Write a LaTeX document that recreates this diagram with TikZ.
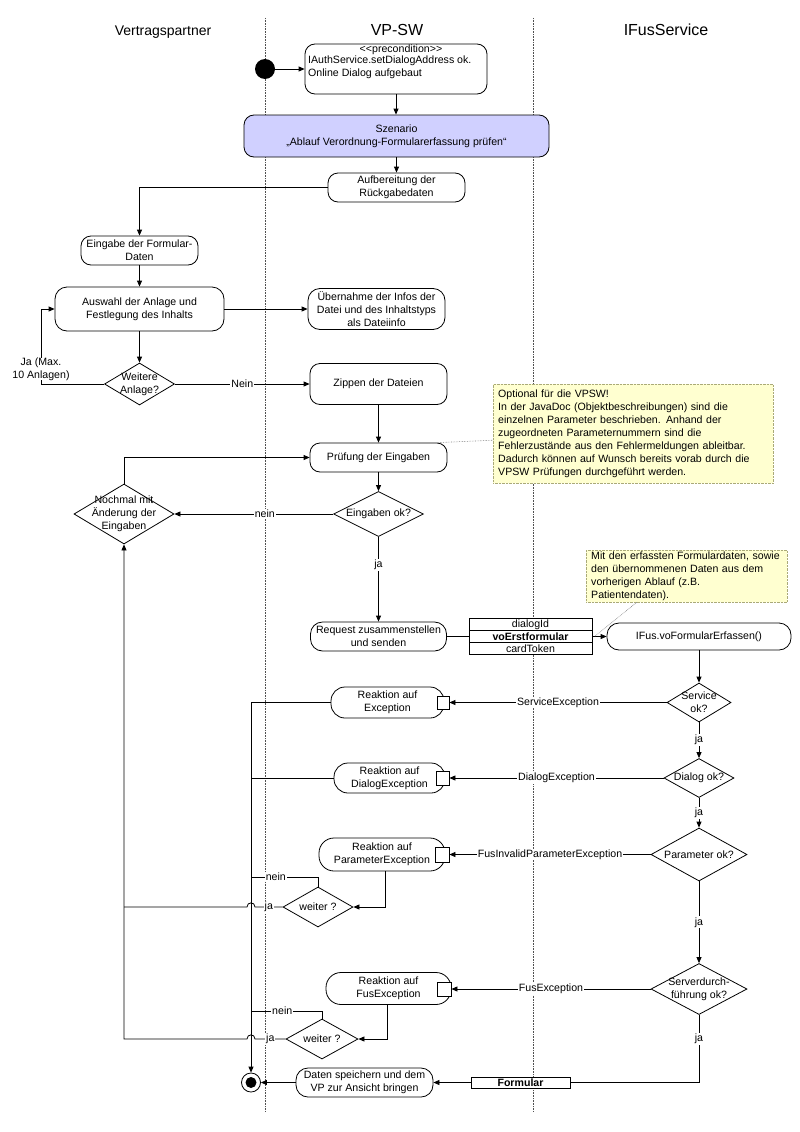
\documentclass[tikz,border=0pt]{standalone}
\usepackage{fontspec}
\setmainfont{Liberation Sans}
\usetikzlibrary{shapes.geometric,arrows.meta,calc}
\definecolor{szen}{RGB}{208,208,255}
\definecolor{notefill}{RGB}{255,255,208}
\definecolor{noteline}{RGB}{170,170,120}
\definecolor{lanecol}{RGB}{80,80,80}
\begin{document}
\begin{tikzpicture}[x=1pt,y=-1pt,
  every node/.style={font=\fontsize{10.6}{13}\selectfont},
  act/.style={draw, rounded corners=10pt, align=center, inner sep=0pt, line width=0.8pt},
  dec/.style={draw, diamond, inner sep=0pt, line width=0.8pt},
  pin/.style={draw, fill=white, inner sep=0pt, line width=0.8pt},
  flow/.style={line width=0.8pt, -{Triangle[length=6pt,width=5pt]}},
  plain/.style={line width=0.8pt},
  lbl/.style={fill=white, inner sep=1pt},
  note/.style={draw=noteline, densely dotted, fill=notefill, align=left, anchor=north west},
  notelink/.style={draw=gray, densely dotted, line width=0.6pt},
  lane/.style={draw=lanecol, densely dotted, line width=0.6pt}]
\useasboundingbox (0,0) rectangle (800,1132);
\fill[white] (0,0) rectangle (800,1132);

% swimlanes
\draw[lane] (265,18) -- (265,1112);
\draw[lane] (533,18) -- (533,1112);
\node[font=\fontsize{14}{16}\selectfont] (hVP) at (163,32) {Vertragspartner};
\node[font=\fontsize{16}{18}\selectfont] (hSW) at (397,30) {VP-SW};
\node[font=\fontsize{16}{18}\selectfont] (hIF) at (666,30) {IFusService};

% nodes
\node[circle, fill=black, minimum size=20pt, inner sep=0pt] (start) at (265,69) {};
\node[act, minimum width=182pt, minimum height=50pt] (pre) at (396,69) {};
\node[inner sep=0pt] (pretitle) at (401,50) {<{}<precondition>{}>};
\node[inner sep=0pt, anchor=north west, align=left] (pretxt) at (308,56) {IAuthService.setDialogAddress ok.\\Online Dialog aufgebaut};

\node[act, fill=szen, minimum width=305pt, minimum height=42pt] (szen) at (396.5,136) {Szenario\\„Ablauf Verordnung-Formularerfassung prüfen“};
\node[act, minimum width=137pt, minimum height=29pt] (aufb) at (396.5,187.5) {Aufbereitung der\\Rückgabedaten};
\node[act, minimum width=117pt, minimum height=29pt] (eing) at (139.5,250.5) {Eingabe der Formular-\\Daten};
\node[act, rounded corners=12pt, minimum width=169pt, minimum height=44pt] (ausw) at (139.5,309) {Auswahl der Anlage und\\Festlegung des Inhalts};
\node[act, rounded corners=12pt, minimum width=137pt, minimum height=41pt] (uebern) at (376.5,309) {Übernahme der Infos der\\Datei und des Inhaltstyps\\als Dateiinfo};
\node[dec, minimum width=70pt, minimum height=42pt, label={[align=center]center:Weitere\\Anlage?}] (weitere) at (139.5,384) {};
\node[act, minimum width=137pt, minimum height=41pt] (zippen) at (378.5,384) {Zippen der Dateien};
\node[act, minimum width=137pt, minimum height=29pt] (pruef) at (378.5,457.5) {Prüfung der Eingaben};
\node[note, text width=270pt, minimum height=99pt, inner xsep=5pt, inner ysep=4pt] (note1) at (493,384) {Optional für die VPSW!\\In der JavaDoc (Objektbeschreibungen) sind die\\einzelnen Parameter beschrieben. Anhand der\\zugeordneten Parameternummern sind die\\Fehlerzustände aus den Fehlermeldungen ableitbar.\\Dadurch können auf Wunsch bereits vorab durch die\\VPSW Prüfungen durchgeführt werden.};
\node[dec, minimum width=90pt, minimum height=45pt, label={center:Eingaben ok?}] (eingok) at (378.5,514) {};
\node[dec, minimum width=100pt, minimum height=60pt, label={[align=center]center:Nochmal mit\\Änderung der\\Eingaben}] (nochmal) at (124,514) {};
\node[act, rounded corners=12pt, minimum width=136pt, minimum height=29pt] (request) at (378.5,636.5) {Request zusammenstellen\\und senden};
\node[pin, minimum width=123pt, minimum height=12pt] (p1) at (530.5,624.5) {dialogId};
\node[pin, minimum width=123pt, minimum height=12pt, font=\fontsize{10.6}{13}\selectfont\bfseries] (p2) at (530.5,636.5) {voErstformular};
\node[pin, minimum width=123pt, minimum height=12pt] (p3) at (530.5,648.5) {cardToken};
\node[act, rounded corners=12pt, minimum width=184pt, minimum height=27pt] (ifus) at (699,636.5) {IFus.voFormularErfassen()};
\node[note, text width=191pt, minimum height=52pt, inner xsep=5pt, inner ysep=0pt] (note2) at (586,550) {Mit den erfassten Formulardaten, sowie\\den übernommenen Daten aus dem\\vorherigen Ablauf (z.B.\\Patientendaten).};

\node[dec, minimum width=64pt, minimum height=39pt, label={[align=center]center:Service\\ok?}] (service) at (699,702.5) {};
\node[act, rounded corners=14pt, minimum width=113pt, minimum height=31pt] (rexc) at (387.5,702.5) {Reaktion auf\\Exception};
\node[pin, minimum width=12pt, minimum height=13pt] (pin1) at (443,702.5) {};

\node[dec, minimum width=70pt, minimum height=39pt, label={center:Dialog ok?}] (dialog) at (699,778) {};
\node[act, rounded corners=14pt, minimum width=111pt, minimum height=30pt] (rdlg) at (389.5,778) {Reaktion auf\\DialogException};
\node[pin, minimum width=13pt, minimum height=14pt] (pin2) at (442.5,778) {};

\node[dec, minimum width=96pt, minimum height=53pt, label={center:Parameter ok?}] (param) at (699,854.5) {};
\node[act, rounded corners=15pt, minimum width=126pt, minimum height=33pt] (rpar) at (382,854.5) {Reaktion auf\\ParameterException};
\node[pin, minimum width=14pt, minimum height=15pt] (pin3) at (442,854.5) {};
\node[dec, minimum width=70pt, minimum height=40pt, label={center:weiter ?}] (weiter1) at (318,907) {};

\node[dec, minimum width=96pt, minimum height=51pt, label={[align=center]center:Serverdurch-\\führung ok?}] (server) at (699,989) {};
\node[act, rounded corners=15pt, minimum width=125pt, minimum height=32pt] (rfus) at (388.5,988.5) {Reaktion auf\\FusException};
\node[pin, minimum width=14pt, minimum height=14pt] (pin4) at (444,989) {};
\node[dec, minimum width=72pt, minimum height=40pt, label={center:weiter ?}] (weiter2) at (322,1039) {};

\node[pin, minimum width=99pt, minimum height=11pt, font=\fontsize{10.6}{13}\selectfont\bfseries] (formular) at (520.5,1082.5) {Formular};
\node[act, rounded corners=12pt, minimum width=137pt, minimum height=29pt] (daten) at (364.5,1082.5) {Daten speichern und dem\\VP zur Ansicht bringen};
\node[circle, draw, fill=white, minimum size=19pt, inner sep=0pt, line width=0.8pt] (endo) at (251,1082.5) {};
\node[circle, fill=black, minimum size=11pt, inner sep=0pt] (endi) at (251,1082.5) {};

% coordinates
\coordinate (jaC) at (41,384);
\coordinate (colTop) at (251,702.5);
\coordinate (w1n) at (318,877);
\coordinate (w2n) at (322,1011);
\coordinate (jL1) at (124,907);
\coordinate (jL2) at (124,1039);
\coordinate (srvC) at (699,1082.5);

% connectors
\draw[flow] (start) -- (pre.west);
\draw[flow] (pre.south) -- (pre.south |- szen.north);
\draw[flow] (szen.south) -- (aufb.north);
\draw[flow] (aufb.west) -| (eing.north);
\draw[flow] (eing.south) -- (ausw.north);
\draw[flow] (ausw.east) -- (ausw.east -| uebern.west);
\draw[flow] (ausw.south) -- (weitere.north);
\draw[flow] (weitere.west) -- (jaC) |- (ausw.west);
\node[lbl, align=center, inner sep=0pt] (jaL) at (41,369) {Ja (Max.\\10 Anlagen)};
\draw[flow] (weitere.east) -- node[lbl]{Nein} (weitere.east -| zippen.west);
\draw[flow] (zippen.south) -- (pruef.north);
\draw[flow] (pruef.south) -- (eingok.north);
\draw[flow] (eingok.west) -- node[lbl, pos=0.43]{nein} (nochmal.east);
\draw[flow] (nochmal.north) |- (pruef.west);
\draw[flow] (eingok.south) -- node[lbl, pos=0.33]{ja} (request.north);
\draw[plain] (request.east) -- (p2.west);
\draw[flow] (p2.east) -- (ifus.west);
\draw[notelink] ([xshift=-9pt]pruef.north east) -- ([yshift=-6.5pt]note1.west);
\draw[notelink] ([xshift=-50pt]note2.south) -- ([xshift=-12pt]ifus.west);

\draw[flow] (ifus.south) -- (service.north);
\draw[flow] (service.west) -- node[lbl]{ServiceException} (pin1.east);
\draw[flow] (service.south) -- node[lbl]{ja} (dialog.north);
\draw[flow] (dialog.west) -- node[lbl]{DialogException} (pin2.east);
\draw[flow] (dialog.south) -- node[lbl]{ja} (param.north);
\draw[flow] (param.west) -- node[lbl]{FusInvalidParameterException} (pin3.east);
\draw[flow] (param.south) -- node[lbl]{ja} (server.north);
\draw[flow] (server.west) -- node[lbl]{FusException} (pin4.east);
\draw[plain] (server.south) -- node[lbl, pos=0.36]{ja} (srvC) -- (formular.east);
\draw[flow] (formular.west) -- (daten.east);
\draw[flow] (daten.west) -- (endo.east);

\draw[flow] (rexc.west) -- (colTop) -- (endo.north);
\draw[plain] (rdlg.west) -- (rdlg.west -| colTop);
\draw[flow] ([xshift=3pt]rpar.south) |- (weiter1.east);
\draw[plain] (weiter1.north) -- (w1n) -- node[lbl, pos=0.63]{nein} (w1n -| colTop);
\draw[plain] (weiter1.west) -- node[lbl]{ja} (255,907) .. controls (255,901.5) and (247,901.5) .. (247,907) -- (jL1);
\draw[flow] ([xshift=-1.5pt]rfus.south) |- (weiter2.east);
\draw[plain] (weiter2.north) -- (w2n) -- node[lbl, pos=0.56]{nein} (w2n -| colTop);
\draw[flow] (weiter2.west) -- node[lbl]{ja} (255,1039) .. controls (255,1033.5) and (247,1033.5) .. (247,1039) -- (jL2) -- (nochmal.south);
\end{tikzpicture}
\end{document}
